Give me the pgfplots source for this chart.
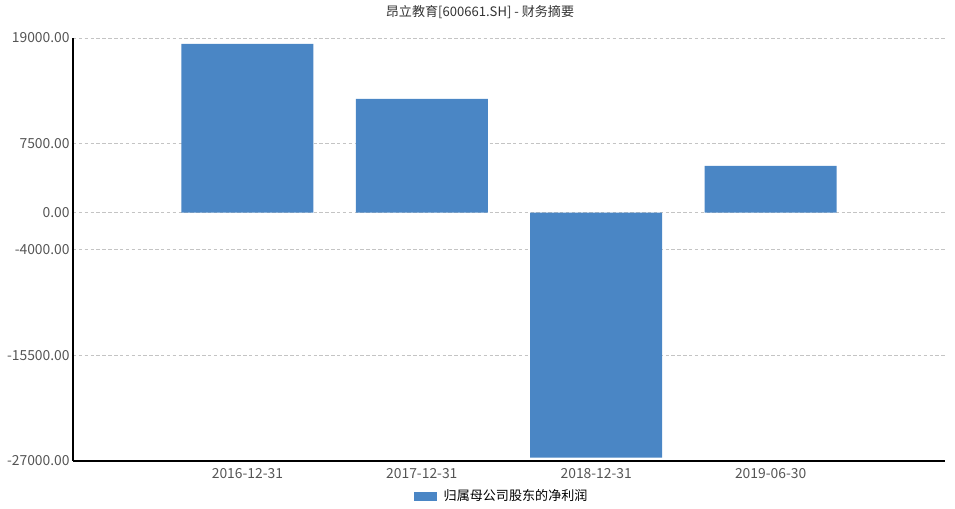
\documentclass[border=0pt]{standalone}
\usepackage{pgfplots}
\pgfplotsset{compat=1.18}
\usepackage{fontspec}
\setmainfont{Noto Sans CJK SC}
\definecolor{barblue}{HTML}{4A86C5}
\definecolor{ticktxt}{HTML}{555555}
\definecolor{gridc}{HTML}{C4C4C4}
\begin{document}
\begin{tikzpicture}[x=0.75pt,y=0.75pt]
\useasboundingbox (0,0) rectangle (955,509);
\begin{axis}[
  at={(73pt*0.75,48pt*0.75)}, anchor=south west,
  scale only axis, width=654pt, height=317.25pt,
  xmin=0, xmax=5, ymin=-27000, ymax=19000,
  ytick={19000,7500,0,-4000,-15500,-27000},
  scaled y ticks=false,
  yticklabel={\pgfmathprintnumber[fixed,fixed zerofill,precision=2,1000 sep={}]{\tick}},
  xtick={1,2,3,4},
  xticklabels={2016-12-31,2017-12-31,2018-12-31,2019-06-30},
  /pgf/number format/assume math mode=true,
  ticklabel style={font=\fontsize{10.4pt}{11pt}\selectfont, text=ticktxt},
  tick style={draw=none},
  axis x line*=bottom, axis y line*=left,
  axis line style={black, line width=0.9pt, -},
  ymajorgrids, grid style={gridc, line width=0.6pt, dash pattern=on 2.6pt off 1.8pt},
  yticklabel style={xshift=1pt},
  xticklabel style={yshift=2.5pt},
  ybar, bar width=0.757,
  clip=false,
]
\addplot[fill=barblue, draw=none] coordinates {(1,18350) (2,12370) (3,-26640) (4,5080)};
\end{axis}
\node[font=\fontsize{9.8pt}{11pt}\selectfont, text=black!80] at (480,497) {昂立教育[600661.SH] - 财务摘要};
\fill[barblue] (414,17) rectangle (437,8);
\node[font=\fontsize{9.8pt}{11pt}\selectfont, anchor=west, text=black] at (439,13) {归属母公司股东的净利润};
\end{tikzpicture}
\end{document}
